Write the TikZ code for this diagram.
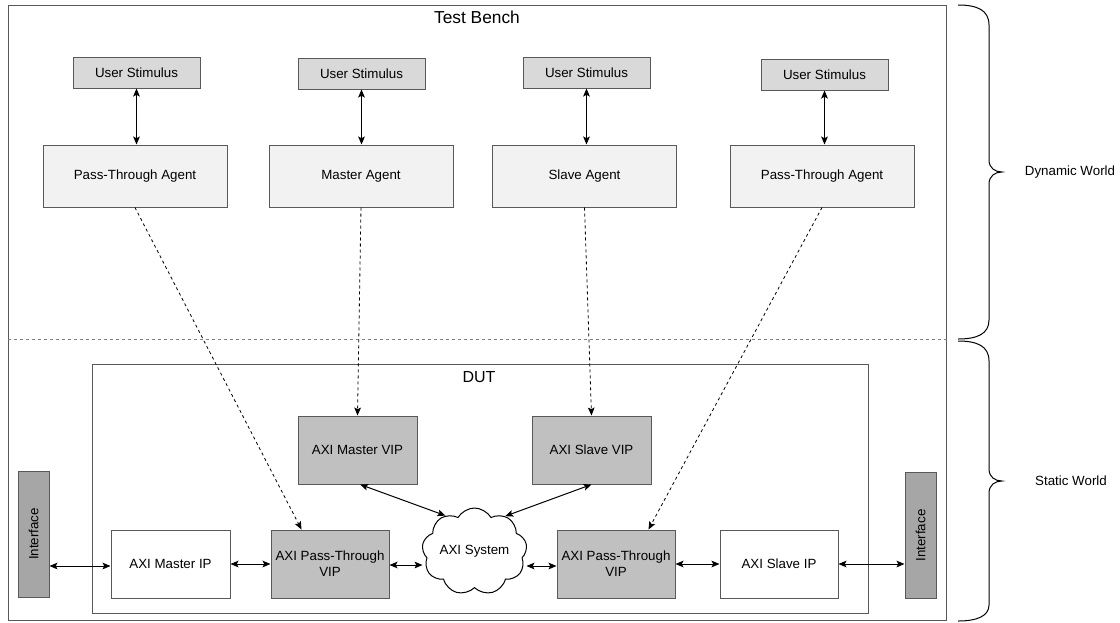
\documentclass[tikz,border=0pt]{standalone}
\usepackage{fontspec}
\setmainfont{Liberation Sans}
\usetikzlibrary{shapes.symbols,arrows.meta,calc}
\definecolor{bd}{HTML}{595959}
\definecolor{stimfill}{HTML}{D9D9D9}
\definecolor{agfill}{HTML}{F2F2F2}
\definecolor{vipfill}{HTML}{C0C0C0}
\definecolor{iffill}{HTML}{A6A6A6}
\definecolor{sepcol}{HTML}{7F7F7F}
\def\pu{0.75pt}
\begin{document}
\begin{tikzpicture}[x=0.75pt,y=-0.75pt,
  every node/.style={font=\fontsize{10}{12}\selectfont},
  box/.style={draw=bd,line width=0.75pt,rectangle,inner sep=0pt,align=center},
  frame/.style={draw=bd,line width=0.75pt,rectangle,inner sep=0pt},
  stim/.style={box,fill=stimfill,minimum width=127*\pu,minimum height=31*\pu},
  agent/.style={box,fill=agfill,minimum width=184*\pu,minimum height=62*\pu},
  vip/.style={box,fill=vipfill,minimum width=119*\pu,minimum height=68*\pu},
  ip/.style={box,fill=white,minimum width=119*\pu,minimum height=68*\pu},
  iface/.style={box,fill=iffill,minimum width=31*\pu,minimum height=126*\pu},
  conn/.style={{Stealth[length=6pt,width=5pt,inset=1.3pt]}-{Stealth[length=6pt,width=5pt,inset=1.3pt]},line width=0.75pt,draw=black},
  dconn/.style={-{Stealth[length=6pt,width=5pt,inset=1.3pt]},line width=0.6pt,dash pattern=on 2.25pt off 2.25pt,draw=black},
  brace/.style={draw=black,line width=0.75pt},
  lbl/.style={inner sep=0pt}
]
\useasboundingbox (0,0) rectangle (1120,622);
\fill[white] (0,0) rectangle (1120,622);

% outer frames
\node[frame,minimum width=938*\pu,minimum height=615*\pu] (tb) at (477,312.5) {};
\node[lbl,font=\fontsize{13}{15}\selectfont] (tbl) at (477,17) {Test Bench};
\draw[draw=sepcol,line width=0.75pt,dash pattern=on 2.25pt off 2.25pt] (tb.west |- 0,339) coordinate (sepl) -- (tb.east |- 0,339) coordinate (sepr);
\node[frame,minimum width=776*\pu,minimum height=249*\pu] (dut) at (480,488.5) {};
\node[lbl,font=\fontsize{12}{14}\selectfont] (dutl) at (479,377) {DUT};

% stimulus and agents
\node[stim] (us1) at (136.5,72.5) {User Stimulus};
\node[stim] (us2) at (361.5,73.5) {User Stimulus};
\node[stim] (us3) at (586.5,72.5) {User Stimulus};
\node[stim] (us4) at (824.5,74.5) {User Stimulus};
\node[agent] (ag1) at (135,176) {Pass-Through Agent};
\node[agent] (ag2) at (361,176) {Master Agent};
\node[agent] (ag3) at (584.5,176) {Slave Agent};
\node[agent] (ag4) at (822,176) {Pass-Through Agent};

% DUT content
\node[vip] (mvip) at (357.5,450) {AXI Master VIP};
\node[vip] (svip) at (591.5,450) {AXI Slave VIP};
\node[vip,minimum width=118*\pu] (ptv1) at (330,564) {AXI Pass-Through\\VIP};
\node[vip,minimum width=118*\pu] (ptv2) at (616,564) {AXI Pass-Through\\VIP};
\node[ip] (mip) at (170.5,564) {AXI Master IP};
\node[ip,minimum width=118*\pu] (sip) at (779,564) {AXI Slave IP};
\node[iface] (if1) at (33.5,534) {\rotatebox{90}{Interface}};
\node[iface] (if2) at (920.5,535.5) {\rotatebox{90}{Interface}};
\node[cloud,draw=black,line width=0.75pt,fill=white,cloud puffs=9,cloud puff arc=120,
      cloud ignores aspect,minimum width=105*\pu,minimum height=87*\pu,inner sep=0pt] (cl) at (474.5,551.5) {AXI System};

% connectors
\draw[conn] (us1.south) -- (us1.south |- ag1.north);
\draw[conn] (us2.south) -- (us2.south |- ag2.north);
\draw[conn] (us3.south) -- (us3.south |- ag3.north);
\draw[conn] (us4.south) -- (us4.south |- ag4.north);

\draw[conn] ([yshift=-1.5pt]if1.east |- mip.west) -- ([yshift=-1.5pt]mip.west);
\draw[conn] (mip.east) -- (ptv1.west);
\draw[conn] ([yshift=-0.75pt]ptv1.east) -- ([yshift=-0.75pt]ptv1.east -| cl.west);
\draw[conn] ([yshift=-1.5pt]ptv2.west -| cl.east) -- ([yshift=-1.5pt]ptv2.west);
\draw[conn] (ptv2.east) -- (sip.west);
\draw[conn] (sip.east) -- (sip.east -| if2.west);
\draw[conn] ([xshift=2pt]mvip.south) -- (cl.129);
\draw[conn] (svip.south) -- (cl.49);

\draw[dconn] (ag1.south) -- ([xshift=31*\pu]ptv1.north west);
\draw[dconn] (ag2.south) -- (mvip.north);
\draw[dconn] (ag3.south) -- (svip.north);
\draw[dconn] (ag4.south) -- ([xshift=-27*\pu]ptv2.north east);

% braces
\draw[brace] (958,5) .. controls (977,5) and (989,10) .. (989,25) -- (989,160)
  .. controls (989,168) and (995,172) .. (1002,172)
  .. controls (995,172) and (989,176) .. (989,184) -- (989,320)
  .. controls (989,334) and (977,339) .. (958,339);
\draw[brace] (958,341) .. controls (977,341) and (989,346) .. (989,361) -- (989,469)
  .. controls (989,477) and (995,481) .. (1002,481)
  .. controls (995,481) and (989,485) .. (989,493) -- (989,605)
  .. controls (989,616) and (977,621) .. (958,621);
\node[lbl] (dyn) at (1070,172) {Dynamic World};
\node[lbl] (sta) at (1071,481) {Static World};
\end{tikzpicture}
\end{document}
